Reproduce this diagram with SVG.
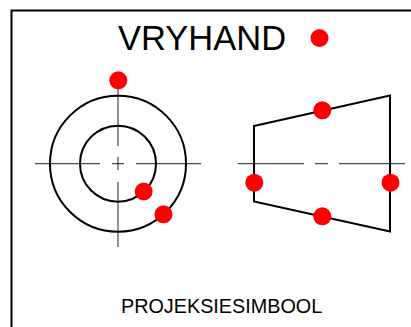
<svg xmlns="http://www.w3.org/2000/svg" width="411" height="327" viewBox="0 0 411 327">
<style>
.o{fill:none;stroke:#000;stroke-width:2}
.a{fill:none;stroke:#222;stroke-width:1}
.d{fill:#f00}
text{font-family:"Liberation Sans",Arial,sans-serif;fill:#000}
</style>
<rect width="411" height="327" fill="#fff"/>
<path id="frame" class="o" d="M11.5 327V10.5H411"/>
<text x="118" y="50" font-size="34.5">VRYHAND</text>
<text x="121" y="313" font-size="19.8">PROJEKSIESIMBOOL</text>
<g id="front-view">
<circle class="o" cx="118" cy="163.7" r="68"/>
<circle class="o" cx="118" cy="163.7" r="38"/>
</g>
<g id="side-view">
<path class="o" d="M254 126L390 95.5V231.5L254 201.5Z"/>
</g>
<g id="connectors">
<path class="a" d="M35 163.7H100M112 163.7H124M136 163.7H201M118 88V146M118 157V170M118 182V247M238 163.7H304M315 163.7H328M339 163.7H405"/>
</g>
<g id="dots">
<circle class="d" cx="319.5" cy="38" r="9"/>
<circle class="d" cx="118.3" cy="80.3" r="9"/>
<circle class="d" cx="143.7" cy="191.5" r="9"/>
<circle class="d" cx="163.5" cy="214.3" r="9"/>
<circle class="d" cx="322.3" cy="110.3" r="9"/>
<circle class="d" cx="254.3" cy="182.7" r="9"/>
<circle class="d" cx="390.5" cy="182.7" r="9"/>
<circle class="d" cx="322.3" cy="216.3" r="9"/>
</g>
</svg>
